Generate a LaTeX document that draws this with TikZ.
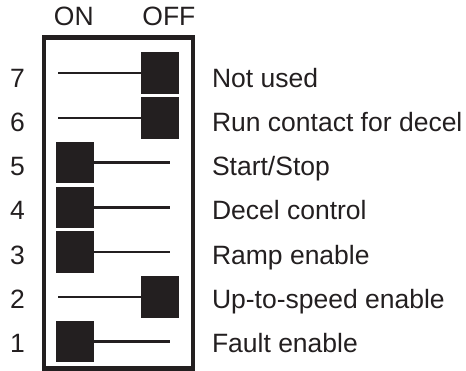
\documentclass[tikz,border=0pt]{standalone}
\usepackage{fontspec}
\setmainfont{Liberation Sans}
\definecolor{ink}{HTML}{231F20}

\begin{document}
\begin{tikzpicture}[
		x=1pt,y=-1pt,
		every node/.style={
			font=\fontsize{26.5}{30}\selectfont,
			text=ink,
			inner sep=0,
			outer sep=0
		},
		housing/.style={
			draw=ink,
			line width=4.5pt,
			minimum width=149pt,
			minimum height=331pt
		},
		knob/.style={draw=none,fill=ink,minimum width=38pt,minimum height=41.5pt
		},
		lever/.style={draw=ink,line width=2.5pt},
		number/.style={anchor=base},
		caption/.style={anchor=base west}
		]
		\useasboundingbox (0,0) rectangle (466,371);
		\node[housing] (dip) at (118.5,203) {};
		% Column headings
		\node[number] (on) at (73.8,26) {ON};
		\node[number] (off) at (168.9,26) {OFF};
		% Switches: knob position, free end of the lever, function
		\foreach \n/\kx/\ex/\txt [count=\i from 0] in {
				7/159.9/57.7/Not used,
				6/159.9/57.7/Run contact for decel,
				5/75.2/170/{Start/Stop},
				4/75.2/170/Decel control,
				3/75.2/170/Ramp enable,
				2/159.9/57.7/Up-to-speed enable,
				1/75.2/170/Fault enable}
			{
				\node[knob] (k\n) at (\kx,73.2+44.75*\i) {};
				\coordinate (e\n) at (\ex,73.2+44.75*\i);
				\draw[lever] (k\n) -- (e\n);
				\node[number] (n\n) at (17.5,87.3+44.2*\i) {\n};
				\node[caption] (t\n) at (212,87.3+44.2*\i) {\txt};
			}
\end{tikzpicture}
\end{document}
